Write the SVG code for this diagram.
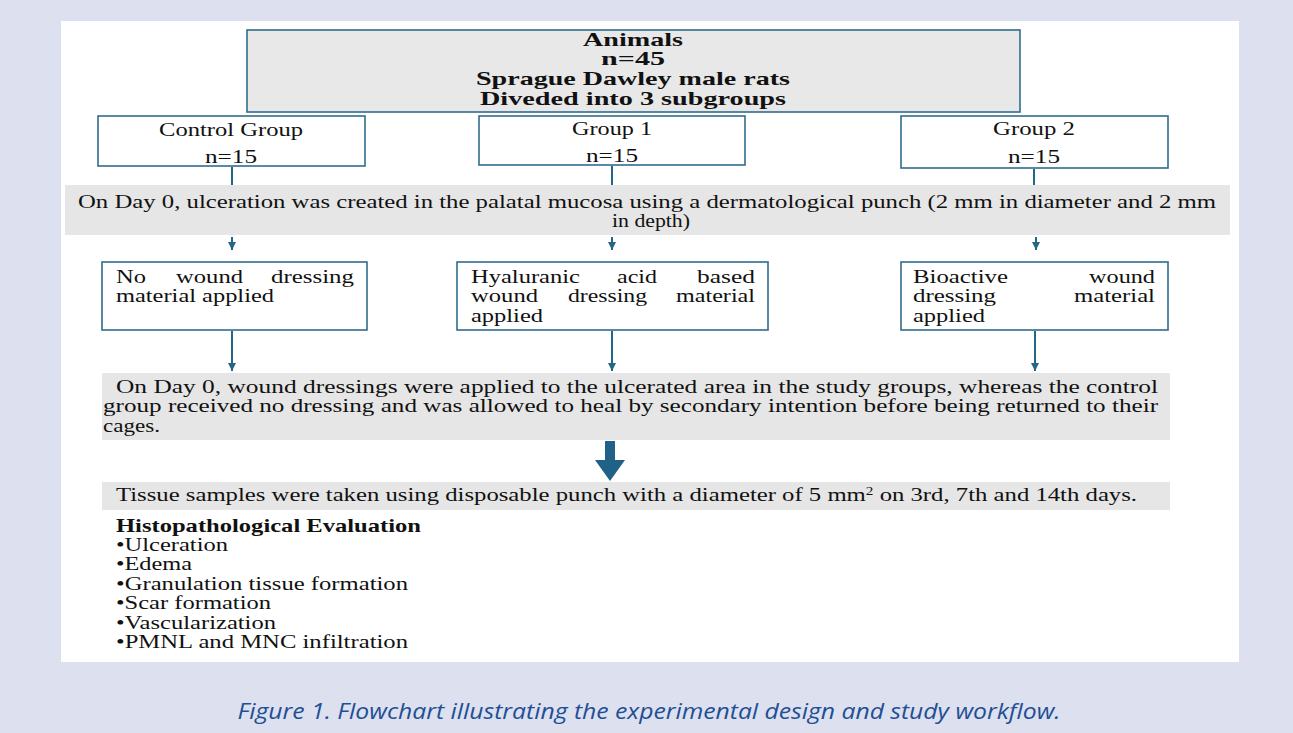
<svg xmlns="http://www.w3.org/2000/svg" width="1293" height="733" viewBox="0 0 1293 733">
<style>
.box{fill:#ffffff;stroke:#2f6d8c;stroke-width:1.6}
.gbox{fill:#e8e8e8;stroke:#2f6d8c;stroke-width:1.6}
.band{fill:#e6e6e6}
.t{font-family:"Liberation Serif","Times New Roman",serif;font-size:19.5px;fill:#111}
.b{font-weight:bold}
.ln{stroke:#246685;stroke-width:2;fill:none}
.cap{font-family:"Open Sans","Noto Sans",sans-serif;font-style:italic;font-size:22px;fill:#1f4f95}
</style>
<defs>
<marker id="ah2" markerWidth="10" markerHeight="8" refX="8" refY="4" orient="auto" markerUnits="userSpaceOnUse">
<path d="M0,0 L8,4 L0,8 Z" fill="#246685"/>
</marker>
</defs>
<rect x="0" y="0" width="1293" height="733" fill="#dde0ef"/>
<rect x="61" y="21" width="1178" height="641" fill="#ffffff"/>

<g id="connectors">
<line class="ln" x1="232" y1="167" x2="232" y2="185"/>
<line class="ln" x1="612" y1="166" x2="612" y2="185"/>
<line class="ln" x1="1034" y1="169" x2="1034" y2="185"/>
<line class="ln" x1="232" y1="237" x2="232" y2="250" marker-end="url(#ah2)"/>
<line class="ln" x1="612" y1="237" x2="612" y2="250" marker-end="url(#ah2)"/>
<line class="ln" x1="1036" y1="237" x2="1036" y2="250" marker-end="url(#ah2)"/>
<line class="ln" x1="232" y1="331" x2="232" y2="371" marker-end="url(#ah2)"/>
<line class="ln" x1="612" y1="331" x2="612" y2="371" marker-end="url(#ah2)"/>
<line class="ln" x1="1035" y1="331" x2="1035" y2="371" marker-end="url(#ah2)"/>
<path d="M605,441 H615 V460 H625 L610,481 L595,460 H605 Z" fill="#1f6187"/>
</g>

<g id="animals">
<rect class="gbox" x="247" y="30" width="773" height="82"/>
<text class="t b" x="633" y="46" text-anchor="middle" font-size="20" textLength="100" lengthAdjust="spacingAndGlyphs">Animals</text>
<text class="t b" x="633" y="65" text-anchor="middle" font-size="20" textLength="64" lengthAdjust="spacingAndGlyphs">n=45</text>
<text class="t b" x="633" y="85" text-anchor="middle" font-size="20" textLength="314" lengthAdjust="spacingAndGlyphs">Sprague Dawley male rats</text>
<text class="t b" x="633" y="105" text-anchor="middle" font-size="20" textLength="306" lengthAdjust="spacingAndGlyphs">Diveded into 3 subgroups</text>
</g>

<g id="control">
<rect class="box" x="98" y="116" width="267" height="50"/>
<text class="t" x="231" y="136" text-anchor="middle" textLength="144" lengthAdjust="spacingAndGlyphs">Control Group</text>
<text class="t" x="231" y="163" text-anchor="middle" textLength="52" lengthAdjust="spacingAndGlyphs">n=15</text>
</g>

<g id="group1">
<rect class="box" x="479" y="116" width="266" height="49"/>
<text class="t" x="612" y="135" text-anchor="middle" textLength="80" lengthAdjust="spacingAndGlyphs">Group 1</text>
<text class="t" x="612" y="162" text-anchor="middle" textLength="52" lengthAdjust="spacingAndGlyphs">n=15</text>
</g>

<g id="group2">
<rect class="box" x="901" y="116" width="267" height="52"/>
<text class="t" x="1034" y="135" text-anchor="middle" textLength="82" lengthAdjust="spacingAndGlyphs">Group 2</text>
<text class="t" x="1034" y="163" text-anchor="middle" textLength="52" lengthAdjust="spacingAndGlyphs">n=15</text>
</g>

<g id="ulceration">
<rect class="band" x="65" y="185" width="1165" height="50"/>
<text class="t" x="78" y="208" textLength="1138" lengthAdjust="spacingAndGlyphs">On Day 0, ulceration was created in the palatal mucosa using a dermatological punch (2 mm in diameter and 2 mm</text>
<text class="t" x="651" y="227" text-anchor="middle" textLength="78" lengthAdjust="spacingAndGlyphs">in depth)</text>
</g>

<g id="no-dressing">
<rect class="box" x="102" y="262" width="265" height="68"/>
<text class="t" x="116" y="283" textLength="30" lengthAdjust="spacingAndGlyphs">No</text>
<text class="t" x="176" y="283" textLength="67" lengthAdjust="spacingAndGlyphs">wound</text>
<text class="t" x="271" y="283" textLength="83" lengthAdjust="spacingAndGlyphs">dressing</text>
<text class="t" x="116" y="302" textLength="158" lengthAdjust="spacingAndGlyphs">material applied</text>
</g>

<g id="hyaluronic">
<rect class="box" x="457" y="262" width="311" height="68"/>
<text class="t" x="471" y="283" textLength="109" lengthAdjust="spacingAndGlyphs">Hyaluranic</text>
<text class="t" x="617" y="283" textLength="40" lengthAdjust="spacingAndGlyphs">acid</text>
<text class="t" x="697" y="283" textLength="58" lengthAdjust="spacingAndGlyphs">based</text>
<text class="t" x="471" y="302" textLength="67" lengthAdjust="spacingAndGlyphs">wound</text>
<text class="t" x="568" y="302" textLength="79" lengthAdjust="spacingAndGlyphs">dressing</text>
<text class="t" x="676" y="302" textLength="79" lengthAdjust="spacingAndGlyphs">material</text>
<text class="t" x="471" y="322" textLength="72" lengthAdjust="spacingAndGlyphs">applied</text>
</g>

<g id="bioactive">
<rect class="box" x="901" y="262" width="267" height="68"/>
<text class="t" x="913" y="283" textLength="95" lengthAdjust="spacingAndGlyphs">Bioactive</text>
<text class="t" x="1089" y="283" textLength="66" lengthAdjust="spacingAndGlyphs">wound</text>
<text class="t" x="913" y="302" textLength="83" lengthAdjust="spacingAndGlyphs">dressing</text>
<text class="t" x="1074" y="302" textLength="81" lengthAdjust="spacingAndGlyphs">material</text>
<text class="t" x="913" y="322" textLength="72" lengthAdjust="spacingAndGlyphs">applied</text>
</g>

<g id="dressings-applied">
<rect class="band" x="102" y="373" width="1068" height="67"/>
<text class="t" x="116" y="393" textLength="1042" lengthAdjust="spacingAndGlyphs">On Day 0, wound dressings were applied to the ulcerated area in the study groups, whereas the control</text>
<text class="t" x="103" y="412" textLength="1055" lengthAdjust="spacingAndGlyphs">group received no dressing and was allowed to heal by secondary intention before being returned to their</text>
<text class="t" x="103" y="432" textLength="57" lengthAdjust="spacingAndGlyphs">cages.</text>
</g>

<g id="tissue-samples">
<rect class="band" x="102" y="482" width="1068" height="28"/>
<text class="t" x="116" y="501" textLength="1021" lengthAdjust="spacingAndGlyphs">Tissue samples were taken using disposable punch with a diameter of 5 mm<tspan font-size="12" dy="-6">2</tspan><tspan dy="6"> on 3rd, 7th and 14th days.</tspan></text>
</g>

<g id="evaluation">
<text class="t b" x="116" y="532" textLength="305" lengthAdjust="spacingAndGlyphs">Histopathological Evaluation</text>
<text class="t" x="116" y="551" textLength="112" lengthAdjust="spacingAndGlyphs">•Ulceration</text>
<text class="t" x="116" y="570" textLength="76" lengthAdjust="spacingAndGlyphs">•Edema</text>
<text class="t" x="116" y="590" textLength="292" lengthAdjust="spacingAndGlyphs">•Granulation tissue formation</text>
<text class="t" x="116" y="609" textLength="155" lengthAdjust="spacingAndGlyphs">•Scar formation</text>
<text class="t" x="116" y="629" textLength="160" lengthAdjust="spacingAndGlyphs">•Vascularization</text>
<text class="t" x="116" y="648" textLength="292" lengthAdjust="spacingAndGlyphs">•PMNL and MNC infiltration</text>
</g>

<text class="cap" x="649" y="719" text-anchor="middle" textLength="823" lengthAdjust="spacingAndGlyphs">Figure 1. Flowchart illustrating the experimental design and study workflow.</text>
</svg>
